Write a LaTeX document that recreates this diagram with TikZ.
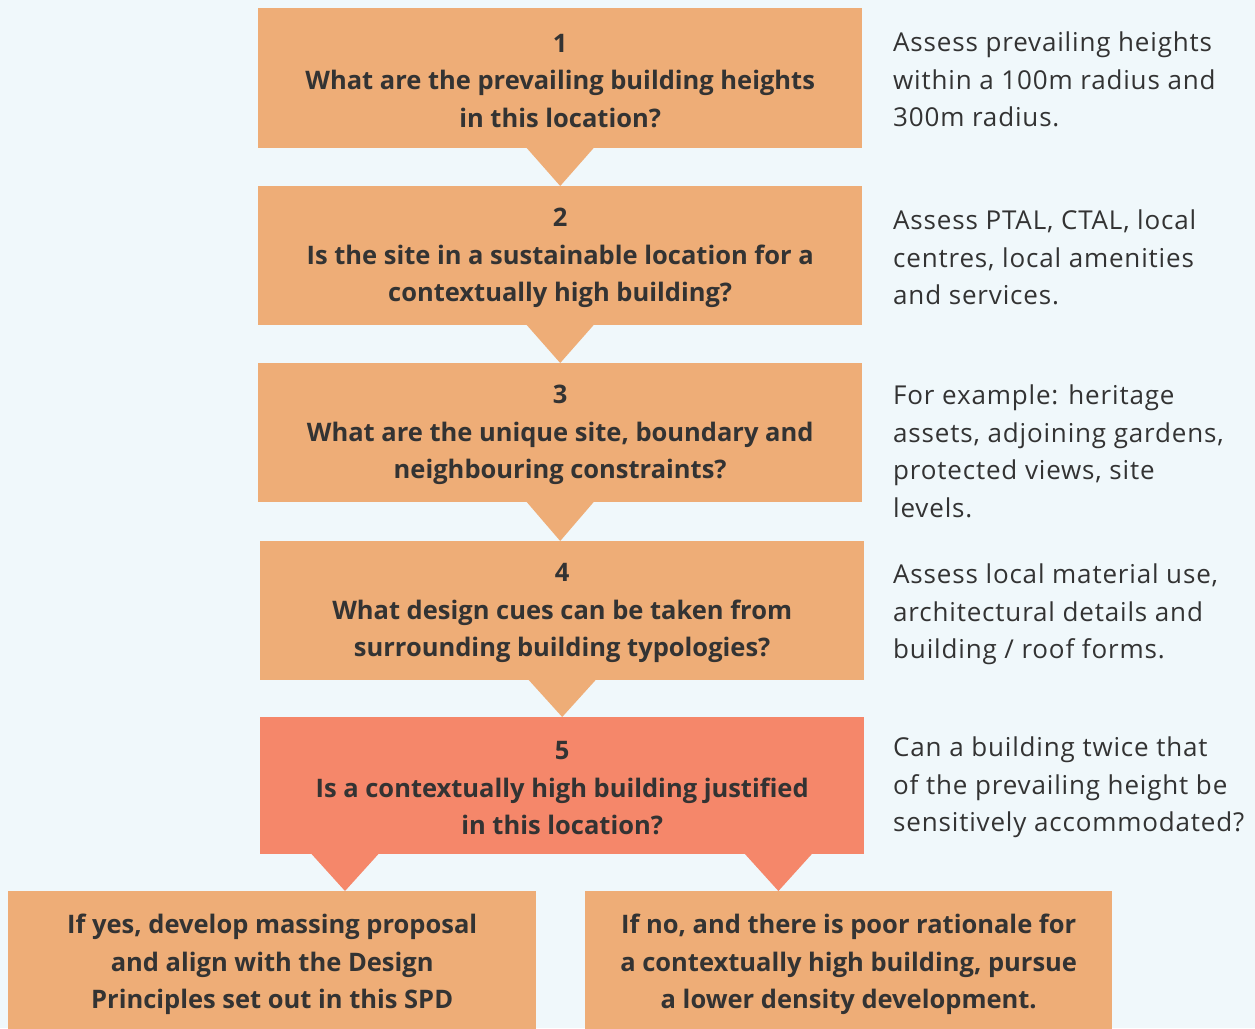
\documentclass[tikz,border=0pt]{standalone}
\usepackage{fontspec}
\setmainfont{Open Sans}
\newfontfamily\notefont[LetterSpace=3.2]{Open Sans}
\usetikzlibrary{calc}
\definecolor{bg}{HTML}{F0F8FB}
\definecolor{boxc}{HTML}{EEAD77}
\definecolor{redc}{HTML}{F5876A}
\definecolor{txt}{HTML}{333333}
\newcommand\liftline[1]{\rule{0pt}{#1}}
\begin{document}
\begin{tikzpicture}[x=1pt,y=-1pt,
  qbox/.style={fill=boxc, inner sep=0pt, align=center, anchor=north west,
    font=\fontsize{25.5}{37.5}\selectfont\bfseries, text=txt,
    minimum width=604pt, minimum height=140pt},
  note/.style={inner sep=0pt, align=left, anchor=north west,
    font=\notefont\fontsize{26}{37.5}\selectfont, text=txt},
  ptr/.style={fill=boxc},
  ptrred/.style={fill=redc}]
\fill[bg] (0,0) rectangle (1255,1028);
\useasboundingbox (0,0) rectangle (1255,1028);

\node[qbox] (b1) at (258,8) {\liftline{23pt}1\\What are the prevailing building heights\\in this location?};
\node[qbox, minimum height=139pt] (b2) at (258,186) {\liftline{23pt}2\\Is the site in a sustainable location for a\\contextually high building?};
\node[qbox, minimum height=139pt] (b3) at (258,363) {\liftline{23pt}3\\What are the unique site, boundary and\\neighbouring constraints?};
\node[qbox, minimum height=139pt] (b4) at (260,541) {\liftline{23pt}4\\What design cues can be taken from\\surrounding building typologies?};
\node[qbox, fill=redc, minimum height=137pt] (b5) at (260,717) {\liftline{23pt}5\\Is a contextually high building justified\\in this location?};
\node[qbox, minimum width=528pt, minimum height=140pt] (b6) at (8,891) {\liftline{26pt}If yes, develop massing proposal\\and align with the Design\\Principles set out in this SPD};
\node[qbox, minimum width=527pt, minimum height=140pt] (b7) at (585,891) {\liftline{26pt}If no, and there is poor rationale for\\a contextually high building, pursue\\a lower density development.};

\node[note] (n1) at (893,32) {Assess prevailing heights\\within a 100m radius and\\300m radius.};
\node[note] (n2) at (893,210) {Assess PTAL, CTAL, local\\centres, local amenities\\and services.};
\node[note] (n3) at (893,385) {For example: heritage\\assets, adjoining gardens,\\protected views, site\\levels.};
\node[note] (n4) at (893,564) {Assess local material use,\\architectural details and\\building / roof forms.};
\node[note] (n5) at (893,737) {Can a building twice that\\of the prevailing height be\\sensitively accommodated?};

\fill[ptr] ($(b1.south)+(-34,-1)$) -- ($(b1.south)+(34,-1)$) -- (b1.south |- b2.north) -- cycle;
\fill[ptr] ($(b2.south)+(-34,-1)$) -- ($(b2.south)+(34,-1)$) -- (b2.south |- b3.north) -- cycle;
\fill[ptr] ($(b3.south)+(-34,-1)$) -- ($(b3.south)+(34,-1)$) -- (b3.south |- b4.north) -- cycle;
\fill[ptr] ($(b4.south)+(-34,-1)$) -- ($(b4.south)+(34,-1)$) -- (b4.south |- b5.north) -- cycle;
\coordinate (l5) at ($(b5.south west)+(85,0)$);
\coordinate (r5) at ($(b5.south east)+(-86,0)$);
\fill[ptrred] ($(l5)+(-34,-1)$) -- ($(l5)+(34,-1)$) -- (l5 |- b6.north) -- cycle;
\fill[ptrred] ($(r5)+(-34,-1)$) -- ($(r5)+(34,-1)$) -- (r5 |- b7.north) -- cycle;
\end{tikzpicture}
\end{document}
